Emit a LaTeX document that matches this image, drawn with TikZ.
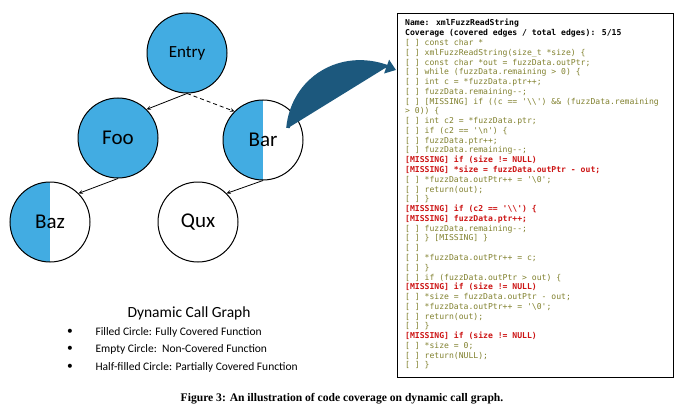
\documentclass[tikz,border=0pt]{standalone}
\usepackage{fontspec}
\setsansfont{Carlito}
\newfontfamily\codefont{DejaVu Sans Mono}
\newfontfamily\captionfont{Liberation Serif}
\usetikzlibrary{arrows.meta,calc}

\definecolor{covBlue}{RGB}{66,172,226}
\definecolor{pointerBlue}{RGB}{28,88,125}
\definecolor{codeOlive}{RGB}{128,128,45}
\definecolor{missRed}{RGB}{204,20,20}

\newcommand{\hit}[1]{\textcolor{codeOlive}{[ ] #1}}
\newcommand{\miss}[1]{\textcolor{missRed}{\bfseries [MISSING] #1}}
\newcommand{\bsl}{\textbackslash}

\begin{document}
\begin{tikzpicture}
[x=1pt,y=-1pt,
  arrowDecorate/.style={->,>=stealth,line width=0.8pt},%
  funcDecorate/.style={shape=circle,minimum size=80pt,inner sep=0pt,draw,line width=1pt,font=\sffamily},%
  fullDecorate/.style={funcDecorate,fill=covBlue},%
  halfDecorate/.style={funcDecorate,fill=white,
    path picture={\fill[covBlue] (path picture bounding box.south west) rectangle (path picture bounding box.north);}},%
  emptyDecorate/.style={funcDecorate,fill=white},%
  pointerDecorate/.style={-{Triangle[length=10pt,width=14pt]},line width=3.6pt,draw=pointerBlue,fill=pointerBlue},%
  codeDecorate/.style={draw,line width=1.2pt,minimum width=276pt,minimum height=364pt},%
  listDecorate/.style={inner sep=0pt,font=\codefont\fontsize{8.1}{9.77}\selectfont}]
\useasboundingbox (0,0) rectangle (690,417);
%% nodes or vertices
\foreach \nodename/\x/\y/\kind/\fs in {
  Entry/187/53/fullDecorate/17, Foo/118/138/fullDecorate/21, Bar/263/140/halfDecorate/21,
  Baz/50/222/halfDecorate/21, Qux/198/222/emptyDecorate/21}
{
  \node (\nodename) at (\x,\y) [\kind] {\fontsize{\fs}{\fs}\selectfont\nodename};
}
%% edges or lines
\path
\foreach \startnode/\endnode in {Entry.south/Foo.45, Foo.south/Baz.45, Bar.south/Qux.45}
{
  (\startnode) edge[arrowDecorate] node {} (\endnode)
};
\draw[arrowDecorate,dash pattern=on 4pt off 3pt] (Entry.south) -- (Bar.135);
%% code listing
\node (codebox) at (397,13) [codeDecorate,anchor=north west] {};
\node (listing) at (405,195) [listDecorate,anchor=west] {%
\begin{tabular}{@{}l@{}}
\textbf{Name: xmlFuzzReadString}\\
\textbf{Coverage (covered edges / total edges): 5/15}\\
\hit{const char *}\\
\hit{xmlFuzzReadString(size\_t *size) \{}\\
\hit{const char *out = fuzzData.outPtr;}\\
\hit{while (fuzzData.remaining > 0) \{}\\
\hit{int c = *fuzzData.ptr++;}\\
\hit{fuzzData.remaining--;}\\
\hit{[MISSING] if ((c == '\bsl\bsl') \&\& (fuzzData.remaining}\\
\textcolor{codeOlive}{> 0)) \{}\\
\hit{int c2 = *fuzzData.ptr;}\\
\hit{if (c2 == '\bsl n') \{}\\
\hit{fuzzData.ptr++;}\\
\hit{fuzzData.remaining--;}\\
\miss{if (size != NULL)}\\
\miss{*size = fuzzData.outPtr - out;}\\
\hit{*fuzzData.outPtr++ = '\bsl 0';}\\
\hit{return(out);}\\
\hit{\}}\\
\miss{if (c2 == '\bsl\bsl') \{}\\
\miss{fuzzData.ptr++;}\\
\hit{fuzzData.remaining--;}\\
\hit{\} [MISSING] \}}\\
\hit{}\\
\hit{*fuzzData.outPtr++ = c;}\\
\hit{\}}\\
\hit{if (fuzzData.outPtr > out) \{}\\
\miss{if (size != NULL)}\\
\hit{*size = fuzzData.outPtr - out;}\\
\hit{*fuzzData.outPtr++ = '\bsl 0';}\\
\hit{return(out);}\\
\hit{\}}\\
\miss{if (size != NULL)}\\
\hit{*size = 0;}\\
\hit{return(NULL);}\\
\hit{\}}
\end{tabular}};
\coordinate (codeentry) at ($(codebox.north west)+(-1,57)$);
\draw[pointerDecorate] ($(Bar.center)+(25,-12)$) .. controls +(5,-50) and +(-55,-20) .. (codeentry);
%% legend
\node (legendtitle) at (189,313) [font=\sffamily\fontsize{15.5}{18}\selectfont] {Dynamic Call Graph};
\foreach \row/\y/\txt in {
  1/332/Filled Circle: Fully Covered Function,
  2/349/Empty Circle:\ \ Non-Covered Function,
  3/367/Half-filled Circle: Partially Covered Function}
{
  \node (bullet\row) at (70,\y) [font=\sffamily\fontsize{11.5}{14}\selectfont] {•};
  \node (item\row) at (92,\y) [anchor=west,font=\sffamily\fontsize{11.5}{14}\selectfont] {\txt};
}
%% caption
\node (caption) at (342,399) [font=\captionfont\bfseries\fontsize{11.6}{13}\selectfont]
  {Figure 3: An illustration of code coverage on dynamic call graph.};
\end{tikzpicture}
\end{document}
